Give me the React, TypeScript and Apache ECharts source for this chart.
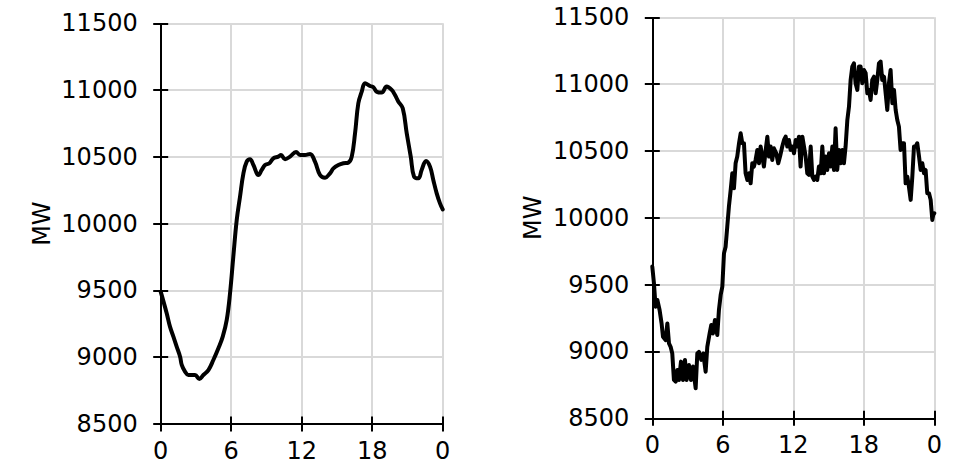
import React, { useEffect, useRef } from "react";
import * as echarts from "echarts";

const xTickLabels = ["0", "6", "12", "18", "0"];
const yName = "MW";

const leftHours = [
  0, 0.51, 0.79, 1.08, 1.36, 1.65, 1.79, 2.07, 2.35, 2.92, 3.29, 3.63, 4.06, 4.48, 4.91, 5.28, 5.62, 5.9,
  6.18, 6.47, 6.75, 7.04, 7.32, 7.6, 7.89, 8.31, 8.6, 8.88, 9.25, 9.59, 10.01, 10.24, 10.58, 11.01, 11.52,
  11.86, 12.28, 12.71, 13.13, 13.56, 13.99, 14.41, 14.7, 15.12, 15.55, 15.97, 16.26, 16.54, 16.82, 17.11,
  17.39, 17.82, 18.1, 18.38, 18.81, 19.23, 19.66, 19.94, 20.23, 20.6, 20.94, 21.28, 21.56, 21.93, 22.21,
  22.58, 22.92, 23.2, 23.49, 23.77, 24,
];
const leftMW = [
  9491, 9329, 9229, 9154, 9079, 9004, 8942, 8892, 8867, 8867, 8837, 8867, 8904, 8979, 9067, 9154, 9279, 9478,
  9753, 10027, 10202, 10377, 10464, 10482, 10439, 10364, 10402, 10439, 10452, 10489, 10502, 10514, 10482,
  10502, 10537, 10514, 10514, 10522, 10464, 10364, 10344, 10377, 10414, 10439, 10452, 10457, 10502, 10676,
  10901, 10988, 11051, 11031, 11021, 10988, 10981, 11026, 11001, 10963, 10913, 10864, 10676, 10502, 10352,
  10339, 10402, 10469, 10427, 10327, 10227, 10152, 10107,
];

const rightHours = [
  0.0, 0.14, 0.28, 0.43, 0.62, 0.79, 0.91, 1.13, 1.28, 1.42, 1.56, 1.7, 1.84, 1.99, 2.13, 2.27, 2.44, 2.61,
  2.78, 2.92, 3.12, 3.29, 3.46, 3.69, 3.83, 3.97, 4.17, 4.34, 4.54, 4.68, 4.88, 5.02, 5.16, 5.33, 5.53, 5.67,
  5.82, 5.96, 6.1, 6.24, 6.38, 6.52, 6.67, 6.81, 6.95, 7.09, 7.23, 7.38, 7.52, 7.66, 7.8, 7.94, 8.09, 8.23,
  8.37, 8.51, 8.65, 8.79, 8.94, 9.08, 9.22, 9.36, 9.5, 9.65, 9.79, 9.93, 10.07, 10.21, 10.35, 10.55, 10.72,
  10.87, 11.06, 11.21, 11.35, 11.49, 11.63, 11.77, 11.91, 12.06, 12.2, 12.34, 12.48, 12.62, 12.77, 12.91,
  13.05, 13.19, 13.33, 13.48, 13.62, 13.76, 13.9, 14.04, 14.18, 14.33, 14.47, 14.61, 14.75, 14.89, 15.04,
  15.18, 15.32, 15.46, 15.6, 15.74, 15.89, 16.03, 16.17, 16.31, 16.45, 16.6, 16.74, 16.88, 17.02, 17.16,
  17.3, 17.45, 17.59, 17.73, 17.87, 18.01, 18.16, 18.3, 18.44, 18.58, 18.72, 18.87, 19.01, 19.15, 19.29,
  19.43, 19.57, 19.72, 19.86, 20.0, 20.14, 20.28, 20.43, 20.57, 20.71, 20.85, 20.99, 21.13, 21.28, 21.42,
  21.56, 21.7, 21.84, 21.99, 22.13, 22.27, 22.41, 22.55, 22.7, 22.84, 22.98, 23.12, 23.26, 23.4, 23.55,
  23.69, 23.83, 23.91, 24.0,
];
const rightMW = [
  9635, 9510, 9335, 9385, 9310, 9210, 9110, 9085, 9210, 9060, 9035, 8985, 8787, 8774, 8862, 8787, 8924, 8787,
  8937, 8787, 8899, 8787, 8887, 8724, 8985, 8997, 8937, 8985, 8849, 9035, 9135, 9198, 9135, 9235, 9123, 9310,
  9423, 9485, 9734, 9784, 9934, 10084, 10208, 10333, 10221, 10408, 10458, 10558, 10632, 10558, 10558, 10333,
  10283, 10333, 10258, 10408, 10383, 10433, 10508, 10408, 10533, 10458, 10383, 10508, 10607, 10458, 10533,
  10433, 10520, 10483, 10408, 10458, 10533, 10582, 10607, 10533, 10582, 10508, 10533, 10483, 10582, 10533,
  10607, 10383, 10607, 10533, 10458, 10333, 10321, 10533, 10308, 10283, 10308, 10283, 10383, 10333, 10533,
  10333, 10458, 10358, 10483, 10383, 10533, 10358, 10670, 10358, 10508, 10408, 10508, 10408, 10533, 10732,
  10832, 11031, 11131, 11156, 11006, 10957, 11131, 11131, 11006, 11106, 11081, 10932, 10957, 10882, 11031,
  11056, 10932, 11031, 11156, 11169, 11031, 11056, 10932, 10807, 11006, 11106, 10857, 10957, 10807, 10732,
  10682, 10508, 10558, 10558, 10258, 10308, 10233, 10134, 10308, 10533, 10533, 10558, 10458, 10358, 10408,
  10333, 10358, 10184, 10184, 10134, 9984, 10021, 10034,
];

const FONT = "DejaVu Sans";
const FS = 24;
const TICK_HALF = 7.5;
// first split line is the axis line itself (black); the rest are light grey grid lines
const splitColors = ["#000", "#d9d9d9", "#d9d9d9", "#d9d9d9", "#d9d9d9", "#d9d9d9", "#d9d9d9"];

// grid-line axes (split lines only)
function xGridAxis(gi: number) {
  return {
    type: "value" as const,
    gridIndex: gi,
    min: 0,
    max: 24,
    interval: 6,
    position: "bottom" as const,
    z: 0,
    axisLine: { show: false, onZero: false },
    axisTick: { show: false },
    axisLabel: { show: false },
    splitLine: { show: true, lineStyle: { color: splitColors, width: 2 } },
  };
}
function yGridAxis(gi: number) {
  return {
    type: "value" as const,
    gridIndex: gi,
    min: 8500,
    max: 11500,
    interval: 500,
    position: "left" as const,
    z: 0,
    axisLine: { show: false, onZero: false },
    axisTick: { show: false },
    axisLabel: { show: false },
    splitLine: { show: true, lineStyle: { color: splitColors, width: 2 } },
  };
}
// tick + label axes, drawn above the grid lines; shifted by half a tick so ticks cross the axis line
function xTickAxis(gi: number) {
  return {
    type: "value" as const,
    gridIndex: gi,
    min: 0,
    max: 24,
    interval: 6,
    position: "bottom" as const,
    offset: -TICK_HALF,
    z: 1,
    axisLine: { show: false, onZero: false },
    axisTick: { show: true, inside: false, length: TICK_HALF * 2, lineStyle: { color: "#000", width: 2 } },
    axisLabel: {
      color: "#000",
      fontFamily: FONT,
      fontSize: FS,
      margin: 15 + TICK_HALF,
      formatter: (v: number) => xTickLabels[Math.round(v / 6)] ?? "",
    },
    splitLine: { show: false },
  };
}
function yTickAxis(gi: number) {
  return {
    type: "value" as const,
    gridIndex: gi,
    min: 8500,
    max: 11500,
    interval: 500,
    position: "left" as const,
    offset: -TICK_HALF,
    z: 1,
    name: yName,
    nameLocation: "middle" as const,
    nameGap: 107 + TICK_HALF,
    nameTextStyle: { color: "#000", fontFamily: FONT, fontSize: FS },
    axisLine: { show: false, onZero: false },
    axisTick: { show: true, inside: false, length: TICK_HALF * 2, lineStyle: { color: "#000", width: 2 } },
    axisLabel: {
      color: "#000",
      fontFamily: FONT,
      fontSize: FS,
      margin: 23 + TICK_HALF,
      formatter: (v: number) => String(v),
    },
    splitLine: { show: false },
  };
}

export default function App() {
  const ref = useRef<HTMLDivElement>(null);
  useEffect(() => {
    if (!ref.current) return;
    const chart = echarts.init(ref.current, undefined, { renderer: "svg" });
    const leftData = leftHours.map((h, i) => [h, leftMW[i]]);
    const rightData = rightHours.map((h, i) => [h, rightMW[i]]);
    chart.setOption({
      animation: false,
      backgroundColor: "#fff",
      grid: [
        { left: 160.7, top: 23.3, width: 282, height: 400.7, containLabel: false },
        { left: 652.3, top: 17.3, width: 282, height: 401, containLabel: false },
      ],
      xAxis: [xGridAxis(0), xGridAxis(1), xTickAxis(0), xTickAxis(1)],
      yAxis: [yGridAxis(0), yGridAxis(1), yTickAxis(0), yTickAxis(1)],
      series: [
        {
          type: "line",
          xAxisIndex: 0,
          yAxisIndex: 0,
          z: 3,
          data: leftData,
          smooth: 0.4,
          showSymbol: false,
          lineStyle: { color: "#000", width: 4, join: "round", cap: "round" },
        },
        {
          type: "line",
          xAxisIndex: 1,
          yAxisIndex: 1,
          z: 3,
          data: rightData,
          smooth: false,
          showSymbol: false,
          lineStyle: { color: "#000", width: 4, join: "round", cap: "round" },
        },
      ],
    });
    return () => chart.dispose();
  }, []);
  return (
    <div
      ref={ref}
      style={{ position: "fixed", left: 0, top: 0, width: 969, height: 469, background: "#fff" }}
    />
  );
}
